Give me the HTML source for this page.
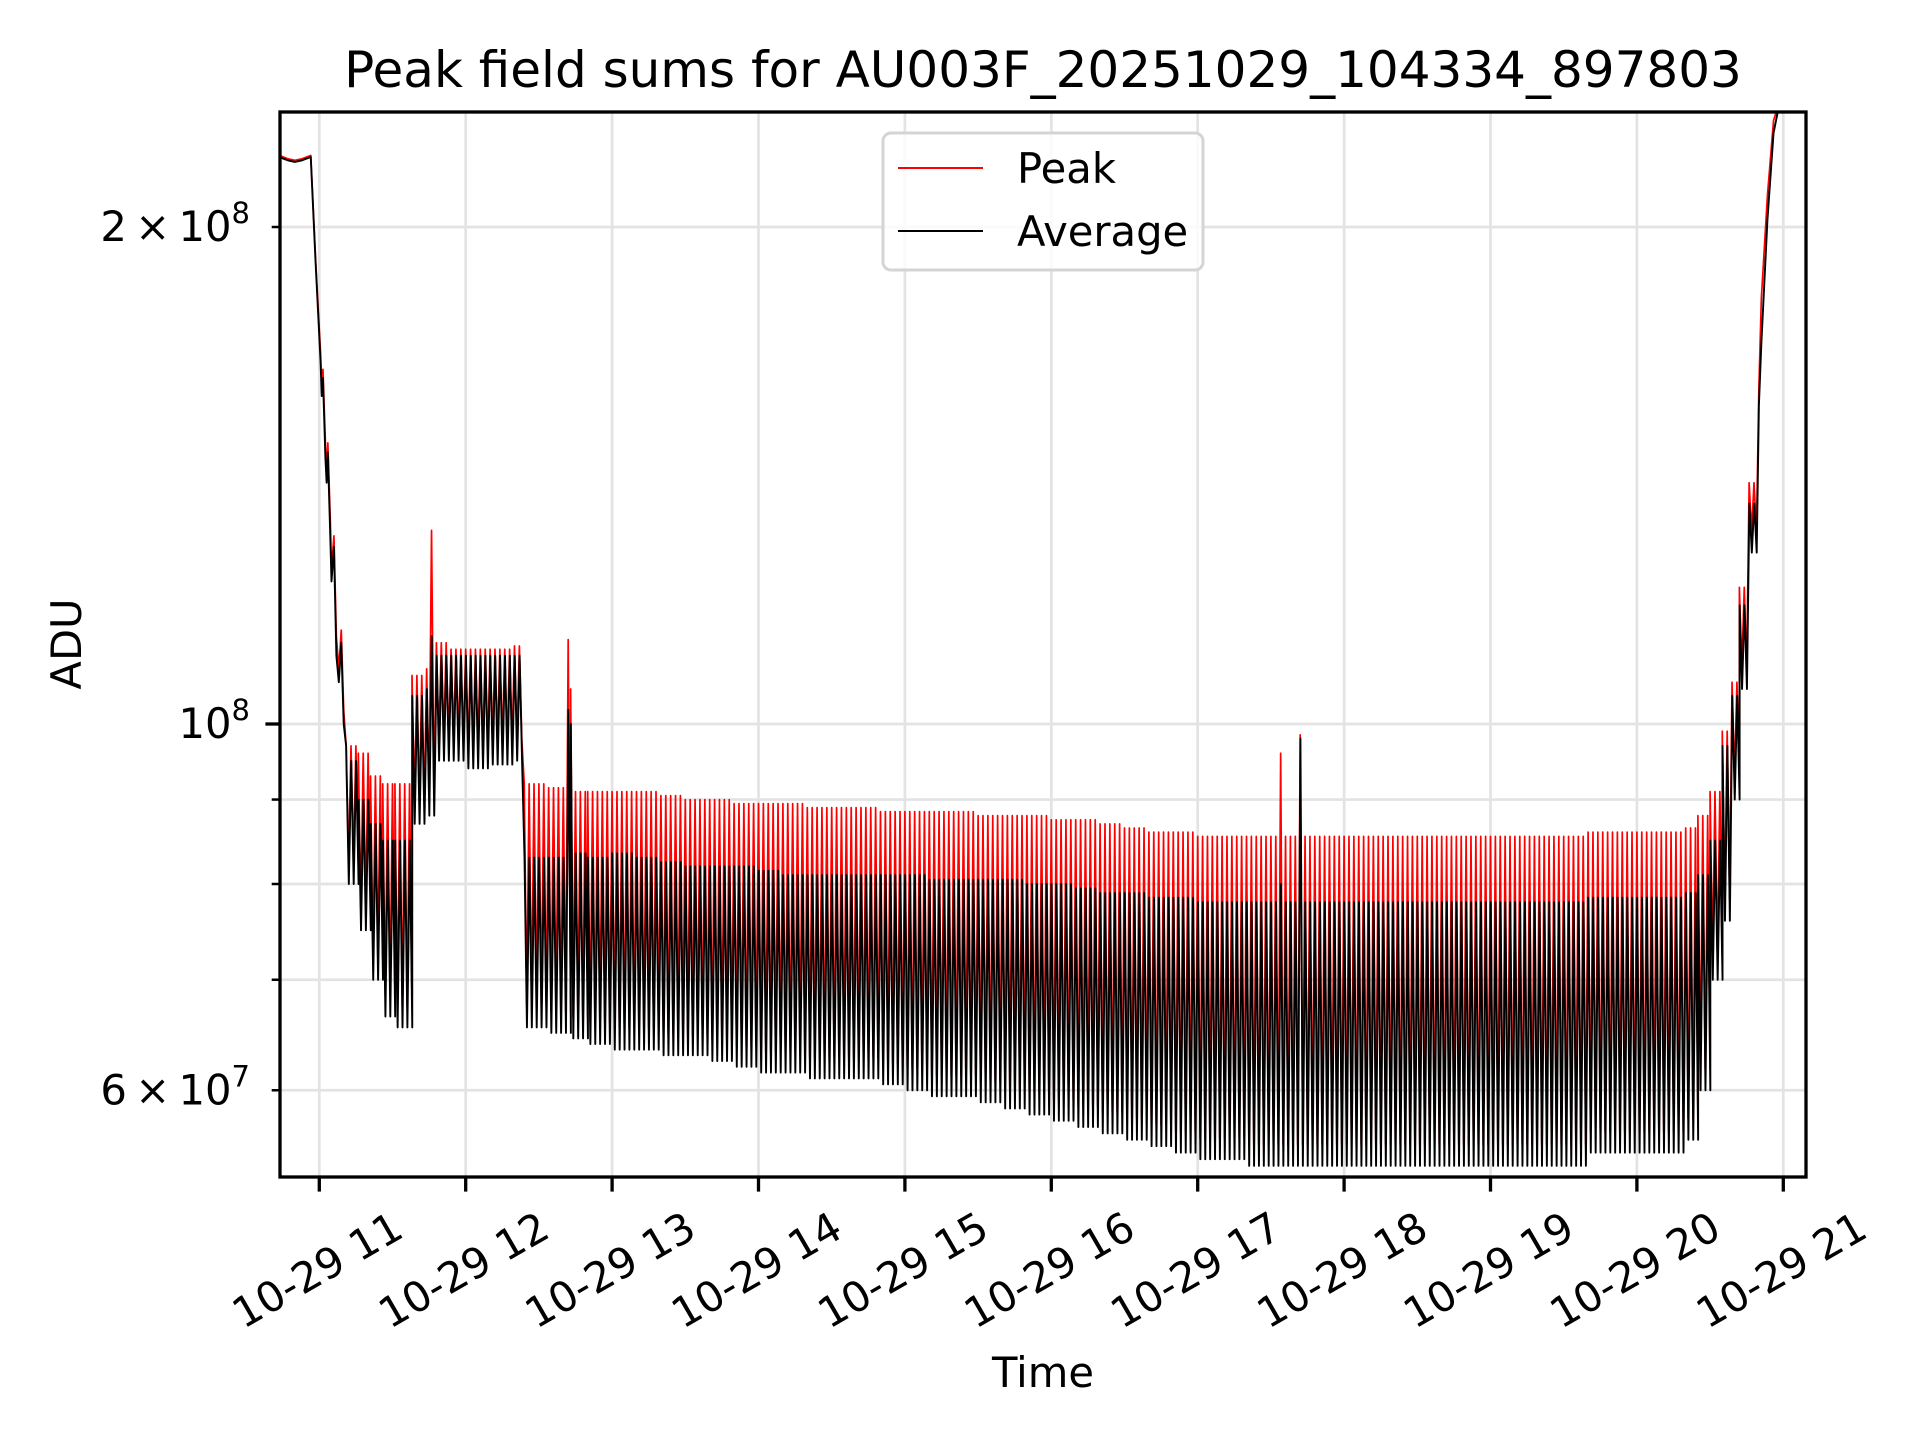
<!DOCTYPE html>
<html><head><meta charset="utf-8"><title>Peak field sums</title>
<style>html,body{margin:0;padding:0;background:#fff}svg{display:block}text{font-family:"DejaVu Sans","Liberation Sans",sans-serif;fill:#000}</style>
</head><body>
<svg id="chart" width="1920" height="1440" viewBox="0 0 1920 1440" xmlns="http://www.w3.org/2000/svg">
<rect width="1920" height="1440" fill="#fff"/>
<defs><clipPath id="plotclip"><rect x="280" y="112" width="1526" height="1065"/></clipPath></defs>
<g id="grid"></g>
<g id="series" clip-path="url(#plotclip)"></g>
<g id="axes"></g>
<text x="1043" y="87" font-size="50" text-anchor="middle">Peak field sums for AU003F_20251029_104334_897803</text>
<text x="1043" y="1387" font-size="41.7" text-anchor="middle">Time</text>
<text x="0" y="0" font-size="41.7" text-anchor="middle" transform="translate(81,644) rotate(-90)">ADU</text>
<g>
<rect x="883" y="133" width="320" height="137" rx="8" fill="#fff" fill-opacity="0.8" stroke="#d4d4d4" stroke-width="3"/>
<line x1="898" y1="168" x2="983" y2="168" stroke="#ff0000" stroke-width="2"/>
<text x="1017" y="183" font-size="41.7">Peak</text>
<line x1="898" y1="231" x2="983" y2="231" stroke="#000" stroke-width="2"/>
<text x="1017" y="246" font-size="41.7">Average</text>
</g>
</svg>
<script>
// minutes since 10:00; values in units of 1e6 ADU
const rampTimes=[43.6,47,50,53,56.5,58.5,60.5,61,61.5,62.5,63,63.5,64.5,65,66,67,68,69,70,71];
const rampAvg=[220.5,219.5,219,219.5,220.5,190,166,158,162,145,140,146,130,122,128,110,106,112,100,97];
const rampPeak=[221,220,219.5,220,221,191,168,160,164,148,142,148,133,124,130,113,108,114,102,97];
const bucketStart=[71,76,81,86,91,98,104,108,114,120,130,140,144,154,163,170,180,190,200,210,220,230,240,250,260,270,280,290,300,310,320,330,340,350,360,370,380,390,400,410,420,430,440,450,460,470,480,490,500,510,520,530,540,550,560,570,580,590,600,610,620,625,630,635,639,642,646];
const bucketPeakTop=[97,96,93,92,92,107,108,112,111,111,111,111.5,92,91.5,91,91,91,91,90.5,90,90,89.5,89.5,89.5,89,89,89,88.5,88.5,88.5,88.5,88,88,88,87.5,87.5,87,86.5,86,86,85.5,85.5,85.5,85.5,85.5,85.5,85.5,85.5,85.5,85.5,85.5,85.5,85.5,85.5,85.5,85.5,86,86,86,86,86.5,88,91,99,106,121,140];
const bucketAvgTop=[95,90,87,85,85,104,105,110,110,110,110,110,83,83,83.5,83,83.5,83,82.5,82,82,82,81.5,81,81,81,81,81,81,80.5,80.5,80.5,80.5,80,80,79.5,79,79,78.5,78.5,78,78,78,78,78,78,78,78,78,78,78,78,78,78,78,78,78.5,78.5,78.5,78.5,79,81,85,97,104,118,136];
const bucketAvgLow=[80,75,70,66.5,65.5,87,88,95,95,94,94.5,95,65.5,65,64.5,64,63.5,63.5,63,63,62.5,62,61.5,61.5,61,61,61,60.5,60,59.5,59.5,59,58.5,58,57.5,57,56.5,56,55.5,55,54.5,54.5,54,54,54,54,54,54,54,54,54,54,54,54,54,54,55,55,55,55,56,60,70,76,90,105,127];
const bucketEnd=650;
const spikeTimes=[107,162.5,164.5,454,462.5];
const spikePeak=[131,112.5,105,96,98.5];
const spikeAvg=[113,102,100,80,98];
const endTimes=[650,651,653.5,656,659];
const endPeak=[160,181,209,232,240];
const endAvg=[156,170,202,228,240];
const xTickHours=[11,12,13,14,15,16,17,18,19,20,21];
const xTickLabels=["10-29 11","10-29 12","10-29 13","10-29 14","10-29 15","10-29 16","10-29 17","10-29 18","10-29 19","10-29 20","10-29 21"];
const yGridValues=[60,70,80,90,100,200];

const NS="http://www.w3.org/2000/svg";
const L=280,T=112,R=1806,B=1177;
function xScale(min){return 319.3+(min-60)/60*146.4;}
function yScale(v){return 724-1651*Math.log10(v/100);}
function mk(tag,attrs,parent){const e=document.createElementNS(NS,tag);for(const k in attrs)e.setAttribute(k,attrs[k]);parent.appendChild(e);return e;}
const grid=document.getElementById('grid'),series=document.getElementById('series'),axes=document.getElementById('axes');

xTickHours.forEach((h,i)=>{const x=xScale(h*60-600);
  const g=mk('line',{x1:x,x2:x,y1:T,y2:B,stroke:'#e3e3e3','stroke-width':2.7},grid);
  
  
});
yGridValues.forEach(v=>{const y=yScale(v);
  const g=mk('line',{x1:L,x2:R,y1:y,y2:y,stroke:'#e3e3e3','stroke-width':2.7},grid);
  
  
});

const cycles=[];
for(let i=0;i<bucketStart.length;i++){
  const end=i+1<bucketStart.length?bucketStart[i+1]:bucketEnd;
  for(let t=bucketStart[i];t<end-0.01;t+=2){cycles.push({t:t,p:bucketPeakTop[i],a:bucketAvgTop[i],l:bucketAvgLow[i]});}
}
spikeTimes.forEach((st,k)=>{for(const c of cycles){if(st>=c.t&&st<c.t+2){c.p=spikePeak[k];c.a=spikeAvg[k];}}});

const pk=[],av=[];
rampTimes.forEach((t,i)=>{pk.push([t,rampPeak[i]]);av.push([t,rampAvg[i]]);});
cycles.forEach(c=>{
  pk.push([c.t,c.p]);pk.push([c.t+1.0,c.l*1.03]);
  av.push([c.t+0.1,c.a]);av.push([c.t+1.1,c.l]);
});
endTimes.forEach((t,i)=>{pk.push([t,endPeak[i]]);av.push([t,endAvg[i]]);});
function pts(a){return a.map(p=>xScale(p[0]).toFixed(2)+','+yScale(p[1]).toFixed(2)).join(' ');}
const peakLine=mk('polyline',{points:pts(pk),fill:'none',stroke:'#ff0000','stroke-width':1.7,'stroke-linejoin':'round'},series);


const avgLine=mk('polyline',{points:pts(av),fill:'none',stroke:'#000','stroke-width':1.9,'stroke-linejoin':'round'},series);



const frame=mk('rect',{x:L,y:T,width:R-L,height:B-T,fill:'none',stroke:'#000','stroke-width':3.3},axes);



xTickHours.forEach((h,i)=>{const x=xScale(h*60-600);
  const tk=mk('line',{x1:x,x2:x,y1:B,y2:B+14.6,stroke:'#000','stroke-width':3.3},axes);
  
  
  const tx=mk('text',{x:0,y:0,'font-size':41.7,'text-anchor':'middle','dominant-baseline':'central',transform:'translate('+(x-2)+',1270) rotate(-30)'},axes);
  tx.textContent=xTickLabels[i];
  
  
});
yGridValues.forEach(v=>{const y=yScale(v);const len=v===100?14.6:8.3;
  const tk=mk('line',{x1:L-len,x2:L,y1:y,y2:y,stroke:'#000','stroke-width':v===100?3.3:2.5},axes);
  
  
});
function yLabel(v,mant,exp){const y=yScale(v);
  const t=mk('text',{x:250,y:y+14,'font-size':41.7,'text-anchor':'end'},axes);
  
  
  const a=mk('tspan',{},t);a.textContent=(mant?mant+'\u2009\u00d7\u200910':'10');
  const b=mk('tspan',{'font-size':29,dy:-18},t);b.textContent=exp;
}
yLabel(200,'2','8');yLabel(100,'','8');yLabel(60,'6','7');
</script>
</body></html>
